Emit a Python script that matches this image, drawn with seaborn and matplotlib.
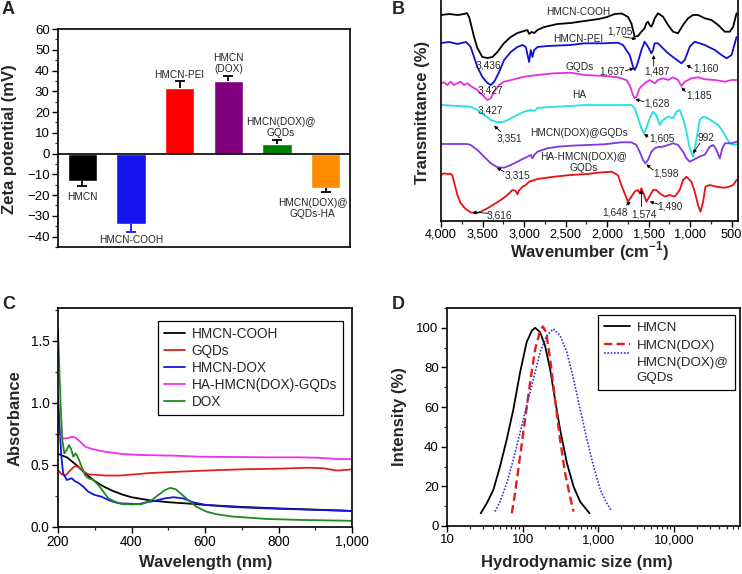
import matplotlib
matplotlib.use("Agg")
import matplotlib.pyplot as plt
import matplotlib.ticker as mticker
import numpy as np
import pandas as pd
import seaborn as sns

# ---------------- Panel A: zeta potential ----------------
zeta_samples = ["HMCN", "HMCN-COOH", "HMCN-PEI", "HMCN(DOX)", "HMCN(DOX)@GQDs", "HMCN(DOX)@GQDs-HA"]
zeta_mV = [-13.3, -34.1, 31.6, 35.1, 4.7, -16.5]
zeta_err = [2.4, 3.5, 3.2, 2.1, 1.6, 1.9]
zeta_colors = ["#000000", "#1414F0", "#FF0000", "#800080", "#008000", "#FF8C00"]
zeta_err_colors = ["#000000", "#1414F0", "#000000", "#000000", "#000000", "#000000"]
zeta_bar_labels = ["HMCN", "HMCN-COOH", "HMCN-PEI", "HMCN\n(DOX)", "HMCN(DOX)@\nGQDs", "HMCN(DOX)@\nGQDs-HA"]

# ---------------- Panel B: FTIR (offset transmittance, a.u.) ----------------
cooh_wn = [4000, 3900, 3800, 3720, 3690, 3662, 3643, 3602, 3562, 3502, 3441, 3381, 3321, 3240, 3160, 3080,
           3000, 2960, 2939, 2910, 2878, 2838, 2758, 2597, 2437, 2271, 2100, 2000, 1909, 1829, 1789, 1749,
           1708, 1668, 1628, 1587, 1548, 1528, 1508, 1488, 1467, 1447, 1427, 1387, 1327, 1266, 1206, 1146,
           1086, 1025, 965, 905, 824, 743, 663, 583, 522, 482, 442]
cooh_T = [206, 207, 206, 207, 208, 204, 198, 184, 173, 164, 163, 164, 169, 178, 184, 188,
          190, 191, 187, 189, 188, 191, 194, 197, 198, 200, 202, 204, 207, 207.5, 206, 204,
          197.7, 184.3, 185, 189.3, 192.7, 197.7, 199.3, 196, 194.3, 197.7, 202.7, 207.7, 204.3, 196, 189.3, 187.7,
          196, 202.7, 206, 206, 202.7, 201, 196, 189.3, 189.3, 194.3, 207.7]

pei_wn = [4000, 3900, 3800, 3700, 3662, 3643, 3602, 3562, 3502, 3441, 3401, 3361, 3300, 3240, 3160, 3080,
          3019, 2979, 2939, 2919, 2899, 2878, 2838, 2718, 2437, 2271, 2030, 1869, 1809, 1769, 1728, 1688,
          1668, 1648, 1628, 1587, 1548, 1508, 1467, 1447, 1427, 1387, 1327, 1266, 1186, 1106, 1065, 1005,
          945, 824, 703, 623, 562, 502, 462, 442]
pei_T = [178, 179, 177, 179, 176, 174, 164, 154, 144, 138, 136, 139, 149, 161, 169, 174,
         176, 174, 159, 171, 164, 171, 174, 175, 176, 177.7, 177.7, 178.3, 176, 171, 166, 154.3,
         151, 154.3, 159, 171, 179.3, 174.3, 167.7, 171, 177.7, 177.7, 172.7, 167.7, 162.7, 157.7, 161, 174.3,
         179.3, 176, 171, 166, 162.7, 166, 177.7, 184]

gqd_wn = [4000, 3964, 3924, 3884, 3843, 3803, 3763, 3723, 3683, 3643, 3562, 3502, 3441, 3401, 3361, 3300,
          3240, 3120, 3000, 2838, 2637, 2437, 2271, 2030, 1869, 1769, 1728, 1688, 1668, 1648, 1608, 1548,
          1487, 1427, 1387, 1327, 1266, 1206, 1146, 1106, 1065, 985, 905, 824, 703, 583, 502, 442]
gqd_T = [138, 138.7, 136, 139.3, 136, 137.7, 139.3, 136, 137.7, 135, 131, 126, 121, 122.7, 129.3, 136,
         139.3, 141.7, 144.3, 146, 147.7, 148.3, 146, 145, 143.7, 141, 136, 126, 122.7, 124.3, 132.7, 137.7,
         141, 137.7, 141, 142.7, 141, 143.7, 141, 135, 139.3, 142.7, 143.7, 141.7, 141, 139.3, 141, 141]

ha_wn = [4000, 3643, 3562, 3481, 3401, 3321, 3240, 3160, 3080, 3000, 2919, 2878, 2838, 2677, 2437, 2271,
         1708, 1668, 1628, 1587, 1555, 1528, 1487, 1447, 1407, 1367, 1327, 1266, 1206, 1166, 1126, 1086,
         1045, 1005, 965, 925, 885, 844, 784, 723, 663, 603, 562, 522, 482, 442]
ha_T = [116, 114.3, 111, 106, 101, 98.7, 99.3, 102.7, 106, 109.3, 111, 110, 113, 114, 115, 116,
        116, 112.7, 102.7, 92.7, 87.7, 92.7, 102.7, 109.3, 106, 96, 101, 104.3, 102.7, 109.3, 111, 102.7,
        89.3, 72.7, 64.3, 81, 101, 104.3, 102.7, 99.3, 96, 89.3, 82.7, 77.7, 76, 76.7]

dg_wn = [4000, 3683, 3643, 3562, 3481, 3401, 3321, 3240, 3160, 3080, 3000, 2919, 2899, 2878, 2838, 2718,
         2597, 2437, 2235, 2030, 1829, 1708, 1648, 1608, 1567, 1539, 1508, 1467, 1427, 1387, 1327, 1266,
         1206, 1146, 1086, 1045, 1005, 965, 925, 885, 824, 764, 723, 683, 643, 615, 583, 502, 442]
dg_T = [77, 77, 76, 71, 64.3, 57.7, 53.7, 53.3, 56, 59.3, 62.7, 66, 62.7, 66, 69.3, 72.7,
        74.3, 75.3, 76, 76.7, 78.7, 78.7, 76, 69.3, 61, 57.7, 61, 69.3, 72.7, 74, 74.3, 76,
        77.7, 76, 69.3, 62.7, 59.3, 61, 62.7, 64.5, 66.3, 74.3, 76, 71, 62.7, 72, 77.7, 77.7, 79.3]

hadg_wn = [4000, 3964, 3924, 3884, 3863, 3843, 3803, 3763, 3703, 3643, 3582, 3522, 3441, 3361, 3281, 3200,
           3140, 3100, 3080, 3060, 3019, 2979, 2939, 2838, 2637, 2437, 2235, 2110, 1949, 1909, 1869, 1829,
           1789, 1749, 1708, 1668, 1628, 1608, 1587, 1555, 1528, 1487, 1447, 1407, 1367, 1306, 1246, 1186,
           1126, 1086, 1045, 985, 945, 905, 876, 844, 816, 764, 683, 603, 542, 482, 442]
hadg_T = [46, 47.7, 47, 47.3, 45.7, 39.3, 26, 17.7, 12, 8.7, 7.7, 9.3, 12.7, 16.7, 21, 26,
          31, 30, 26.7, 30.5, 34.3, 36, 39.3, 42, 44.3, 46, 47, 48.3, 49.3, 47.7, 45.7, 36,
          27.7, 19.3, 24.3, 29.3, 31, 27.7, 32.7, 26, 19.3, 25, 31, 31, 27.7, 24.3, 26, 24.3,
          31, 41, 44.3, 39.3, 29.3, 16, 9.3, 19.3, 34.3, 36, 34.3, 33.3, 34, 36, 41]

ftir_wn = [cooh_wn, pei_wn, gqd_wn, ha_wn, dg_wn, hadg_wn]
ftir_T = [cooh_T, pei_T, gqd_T, ha_T, dg_T, hadg_T]
ftir_colors = ["#000000", "#1010D0", "#E030E0", "#20E0E8", "#8038E0", "#E81010"]
ftir_xticks = [4000, 3500, 3000, 2500, 2000, 1500, 1000, 500]

# ---------------- Panel C: UV-vis ----------------
uv_names = ["HMCN-COOH", "GQDs", "HMCN-DOX", "HA-HMCN(DOX)-GQDs", "DOX"]
uv_colors = ["#000000", "#E02020", "#1515DD", "#F030F0", "#208A20"]
cooh_wl = [200, 225, 250, 275, 300, 325, 350, 375, 400, 450, 500, 550, 600, 650, 700, 800, 900, 1000]
cooh_abs = [0.59, 0.56, 0.50, 0.43, 0.37, 0.325, 0.29, 0.262, 0.24, 0.215, 0.20, 0.19, 0.178, 0.17, 0.162, 0.15, 0.14, 0.13]
gqd_wl = [200, 210, 220, 233, 245, 255, 269, 282, 330, 370, 450, 520, 600, 700, 800, 880, 920, 960, 1000]
gqd_abs = [0.46, 0.425, 0.415, 0.455, 0.49, 0.485, 0.45, 0.425, 0.415, 0.415, 0.435, 0.445, 0.455, 0.465, 0.47, 0.478, 0.474, 0.455, 0.465]
hdox_wl = [200, 205, 210, 214, 224, 237, 246, 255, 269, 282, 300, 318, 337, 355, 373, 419, 464, 491, 515, 540, 567, 604, 676, 767, 858, 1000]
hdox_abs = [1.06, 0.756, 0.54, 0.433, 0.379, 0.393, 0.37, 0.357, 0.325, 0.285, 0.258, 0.245, 0.218, 0.199, 0.19, 0.185, 0.212, 0.231, 0.24, 0.231, 0.2, 0.177, 0.161, 0.15, 0.142, 0.129]
hadg_wl = [200, 210, 224, 240, 248, 260, 274, 292, 328, 373, 419, 518, 585, 767, 858, 912, 960, 1000]
hadg_abs = [0.742, 0.715, 0.715, 0.728, 0.72, 0.688, 0.648, 0.629, 0.607, 0.589, 0.581, 0.575, 0.567, 0.562, 0.562, 0.558, 0.548, 0.548]
dox_wl = [200, 203.6, 207.3, 211.8, 217.2, 223.6, 229.9, 235.4, 241.7, 248.1, 255.3, 264.4, 273.5, 282.5, 296.1, 309.7,
          323.3, 336.9, 355, 373, 400, 428, 455, 473, 491, 505, 520, 549, 576, 604, 631, 676, 767, 858, 1000]
dox_abs = [1.59, 1.29, 0.97, 0.70, 0.594, 0.62, 0.661, 0.63, 0.567, 0.594, 0.554, 0.486, 0.419, 0.393, 0.379, 0.339,
           0.285, 0.231, 0.204, 0.185, 0.182, 0.185, 0.218, 0.258, 0.298, 0.315, 0.305, 0.231, 0.164, 0.124, 0.103, 0.084, 0.065, 0.057, 0.05]
uv_wl = [cooh_wl, gqd_wl, hdox_wl, hadg_wl, dox_wl]
uv_abs = [cooh_abs, gqd_abs, hdox_abs, hadg_abs, dox_abs]

# ---------------- Panel D: DLS ----------------
dls_names = ["HMCN", "HMCN(DOX)", "HMCN(DOX)@\nGQDs"]
dls_colors = ["#000000", "#E02020", "#3535D0"]
hmcn_size = [27.9, 33.6, 41.1, 50.3, 61.7, 75.5, 92.6, 113, 132.6, 146.6, 170.4, 198, 231, 268, 313, 385, 472, 576, 768]
hmcn_int = [6.4, 11.5, 18.3, 30.1, 43.7, 58.9, 77.5, 92.7, 98.6, 100, 97.8, 91, 79.2, 64, 48.7, 31.8, 19.9, 12.3, 6.4]
hdox_size = [71.9, 79.4, 92.6, 107.8, 125.6, 146.6, 170.4, 185, 204.6, 231, 268, 313, 364, 424, 472]
hdox_int = [6.4, 16.6, 35.2, 53.8, 72.4, 89.3, 98.6, 100.7, 97.8, 84.3, 64, 43.7, 26.7, 14.9, 7.3]
dg_size = [43.2, 50.3, 61.7, 75.5, 92.6, 113, 138.8, 170.4, 208.6, 255.5, 313, 385, 472, 576, 709, 868, 1064, 1300, 1470]
dg_int = [7.3, 12.3, 21.7, 33.5, 47, 60.6, 74.1, 87.7, 96.1, 99.5, 96.1, 87.7, 74.1, 58.9, 43.7, 30.1, 18.3, 11.5, 8.1]
dls_size = [hmcn_size, hdox_size, dg_size]
dls_int = [hmcn_int, hdox_int, dg_int]

# ---------------- Style ----------------
sns.set_theme(style="ticks")
plt.rcParams["font.family"] = ["Liberation Sans", "DejaVu Sans"]
plt.rcParams["mathtext.fontset"] = "custom"
plt.rcParams["mathtext.rm"] = "Liberation Sans"
plt.rcParams["mathtext.bf"] = "Liberation Sans:bold"
plt.rcParams["axes.unicode_minus"] = True

W, H = 742, 574
fig = plt.figure(figsize=(W / 100, H / 100), dpi=100)


def box(l, t, r, b):
    return [l / W, 1 - b / H, (r - l) / W, (b - t) / H]


def style_axes(ax, labelsize=9.5):
    for s in ax.spines.values():
        s.set_linewidth(1.2)
        s.set_color("black")
        s.set_visible(True)
    ax.tick_params(which="major", direction="out", length=4, width=1, labelsize=labelsize, colors="black", pad=2)
    ax.tick_params(which="minor", direction="out", length=2.2, width=0.9)
    ax.grid(False)
    ax.set_facecolor("white")


axA = fig.add_axes(box(58, 29, 350, 247))
axB = fig.add_axes(box(441, -1, 738, 221))
axC = fig.add_axes(box(58, 308, 352, 527))
axD = fig.add_axes(box(447, 308, 740, 526))

# ---- A ----
sns.barplot(x=zeta_samples, y=zeta_mV, hue=zeta_samples, palette=zeta_colors, width=0.6,
            saturation=1, legend=False, errorbar=None, ax=axA, zorder=2)
for i, (v, e, c) in enumerate(zip(zeta_mV, zeta_err, zeta_err_colors)):
    lo = e if v < 0 else 0
    hi = e if v > 0 else 0
    _, caps, _ = axA.errorbar(i, v, yerr=[[lo], [hi]], fmt="none", ecolor=c, elinewidth=1.3,
                              capsize=3.5, capthick=1.3, zorder=3)
    if len(caps) == 2:
        caps[1 if v < 0 else 0].set_visible(False)
axA.axhline(0, color="black", lw=1.2, zorder=4)
axA.set_ylim(-45, 60)
axA.set_xlim(-0.5, 5.5)
axA.set_yticks(np.arange(-40, 61, 10))
axA.yaxis.set_minor_locator(mticker.MultipleLocator(5))
axA.set_xticks([])
axA.set_xlabel("")
axA.set_ylabel("")
style_axes(axA)
a_label_pos = [(0, -20.7), (1.0, -41.6), (1.99, 38.0), (3.0, 43.4), (4.07, 12.6), (4.73, -26.5)]
for (x, y), t in zip(a_label_pos, zeta_bar_labels):
    axA.text(x, y, t, ha="center", va="center", fontsize=7.3, linespacing=1.15, zorder=5)

# ---- B ----
for wn, T, c in zip(ftir_wn, ftir_T, ftir_colors):
    sns.lineplot(x=wn, y=T, color=c, lw=1.3, ax=axB, estimator=None, legend=False)
axB.set_xlim(4000, 424)
axB.set_ylim(0, 222)
axB.set_xticks(ftir_xticks)
axB.xaxis.set_minor_locator(mticker.MultipleLocator(250))
axB.xaxis.set_major_formatter(mticker.FuncFormatter(lambda v, p: f"{v:,.0f}"))
axB.set_yticks([])
axB.set_xlabel("")
axB.set_ylabel("")
style_axes(axB, labelsize=9.2)
axB.tick_params(axis="x", pad=1.5)

b_texts = [
    ("HMCN-COOH", 2344, 209), ("HMCN-PEI", 2344, 182), ("GQDs", 2332, 154), ("HA", 2338, 126),
    ("HMCN(DOX)@GQDs", 2344, 88.5), ("HA-HMCN(DOX)@\nGQDs", 2283, 58.3),
    ("3,436", 3434, 156), ("3,427", 3411, 131), ("3,427", 3411, 111), ("3,351", 3176, 82.7),
    ("3,315", 3080, 46), ("3,616", 3297, 6), ("1,705", 1840, 189.3), ("1,637", 1940, 149.3),
    ("1,487", 1397, 149.3), ("1,160", 814, 152.7), ("1,628", 1397, 117.7), ("1,185", 896, 126),
    ("1,605", 1337, 82.7), ("992", 814, 82.7), ("1,598", 1286, 47.7), ("1,648", 1910, 9),
    ("1,574", 1560, 6.7), ("1,490", 1246, 14.3),
]
for t, x, y in b_texts:
    axB.text(x, y, t, ha="center", va="center", fontsize=7.3, linespacing=1.1, zorder=5)
b_arrows = [
    (1809, 184.3, 1648, 182), (1780, 150.3, 1677, 152.7), (1439, 155, 1439, 166),
    (977, 152.7, 1045, 156), (1556, 119.3, 1660, 121.7), (1057, 129.3, 1105, 133.7),
    (3281, 89.3, 3361, 95.3), (3240, 49.3, 3329, 53.3), (3421, 7.7, 3622, 8.7),
    (1508, 84.3, 1556, 87), (884, 77.7, 965, 67.7), (1447, 51, 1527, 56.7),
    (1768, 16, 1716, 19.3), (1587, 14.3, 1587, 31), (1379, 16.7, 1487, 19.3),
]
for x0, y0, x1, y1 in b_arrows:
    axB.annotate("", xy=(x1, y1), xytext=(x0, y0),
                 arrowprops=dict(arrowstyle="-|>", lw=0.6, color="black", mutation_scale=5,
                                 shrinkA=0, shrinkB=0), zorder=5)

# ---- C ----
for wl, ab, c, n in zip(uv_wl, uv_abs, uv_colors, uv_names):
    sns.lineplot(x=wl, y=ab, color=c, lw=1.3, ax=axC, estimator=None, label=n)
axC.set_xlim(200, 1000)
axC.set_ylim(0, 1.766)
axC.set_xticks([200, 400, 600, 800, 1000])
axC.xaxis.set_minor_locator(mticker.MultipleLocator(100))
axC.set_yticks([0, 0.5, 1.0, 1.5])
axC.yaxis.set_minor_locator(mticker.MultipleLocator(0.25))
axC.xaxis.set_major_formatter(mticker.FuncFormatter(lambda v, p: f"{v:,.0f}"))
axC.yaxis.set_major_formatter(mticker.FormatStrFormatter("%.1f"))
axC.set_xlabel("")
axC.set_ylabel("")
style_axes(axC, labelsize=9.8)
legC = axC.legend(loc="upper right", bbox_to_anchor=(0.969, 0.9406), borderaxespad=0, fontsize=9.8,
                  frameon=True, fancybox=False, edgecolor="black", framealpha=1, handlelength=1.5,
                  handletextpad=0.5, labelspacing=0.22, borderpad=0.45)
legC.get_frame().set_linewidth(0.9)

# ---- D ----
dls_styles = [dict(linestyle="-", lw=1.3), dict(linestyle=(0, (3.5, 1.8)), lw=1.7), dict(linestyle=(0, (1, 1)), lw=1.2)]
for sz, it, c, n, st in zip(dls_size, dls_int, dls_colors, dls_names, dls_styles):
    sns.lineplot(x=sz, y=it, color=c, ax=axD, estimator=None, label=n, **st)
axD.set_xscale("log")
axD.set_xlim(10, 75000)
axD.set_ylim(0, 110)
axD.set_xticks([10, 100, 1000, 10000])
axD.xaxis.set_minor_locator(mticker.LogLocator(base=10, subs=np.arange(2, 10), numticks=20))
axD.xaxis.set_major_formatter(mticker.FuncFormatter(lambda v, p: f"{v:,.0f}"))
axD.xaxis.set_minor_formatter(mticker.NullFormatter())
axD.set_yticks(np.arange(0, 101, 20))
axD.yaxis.set_minor_locator(mticker.MultipleLocator(10))
axD.set_xlabel("")
axD.set_ylabel("")
style_axes(axD)
legD = axD.legend(loc="upper right", bbox_to_anchor=(0.983, 0.968), borderaxespad=0, fontsize=9.6,
                  frameon=True, fancybox=False, edgecolor="black", framealpha=1, handlelength=1.9,
                  handletextpad=0.5, labelspacing=0.4, borderpad=0.5)
legD.get_frame().set_linewidth(0.9)
for t in legD.get_texts():
    t.set_linespacing(1.3)
# put the handle of the two-line entry next to its first line
dline = legD.get_lines()[2]
dline.set_ydata(np.asarray(dline.get_ydata(), dtype=float) + 12.0)

# ---- axis labels & panel letters ----
lab = dict(fontsize=12, fontweight="bold", ha="center", va="center")
fig.text(10 / W, 1 - 139 / H, "Zeta potential (mV)", rotation=90, **lab)
fig.text(423 / W, 1 - 112 / H, "Transmittance (%)", rotation=90, **lab)
fig.text(590 / W, 1 - 251 / H, r"Wavenumber (cm$^{\mathbf{-1}}$)", **lab)
fig.text(15 / W, 1 - 418 / H, "Absorbance", rotation=90, **lab)
fig.text(206 / W, 1 - 562 / H, "Wavelength (nm)", **lab)
fig.text(400 / W, 1 - 417 / H, "Intensity (%)", rotation=90, **lab)
fig.text(577 / W, 1 - 563 / H, "Hydrodynamic size (nm)", **lab)
for t, x, y in [("A", 2, 1), ("B", 392, 1), ("C", 2, 296), ("D", 392, 296)]:
    fig.text(x / W, 1 - y / H, t, fontsize=13, fontweight="bold", ha="left", va="top")

fig.savefig("out.png", dpi=100, facecolor="white")
